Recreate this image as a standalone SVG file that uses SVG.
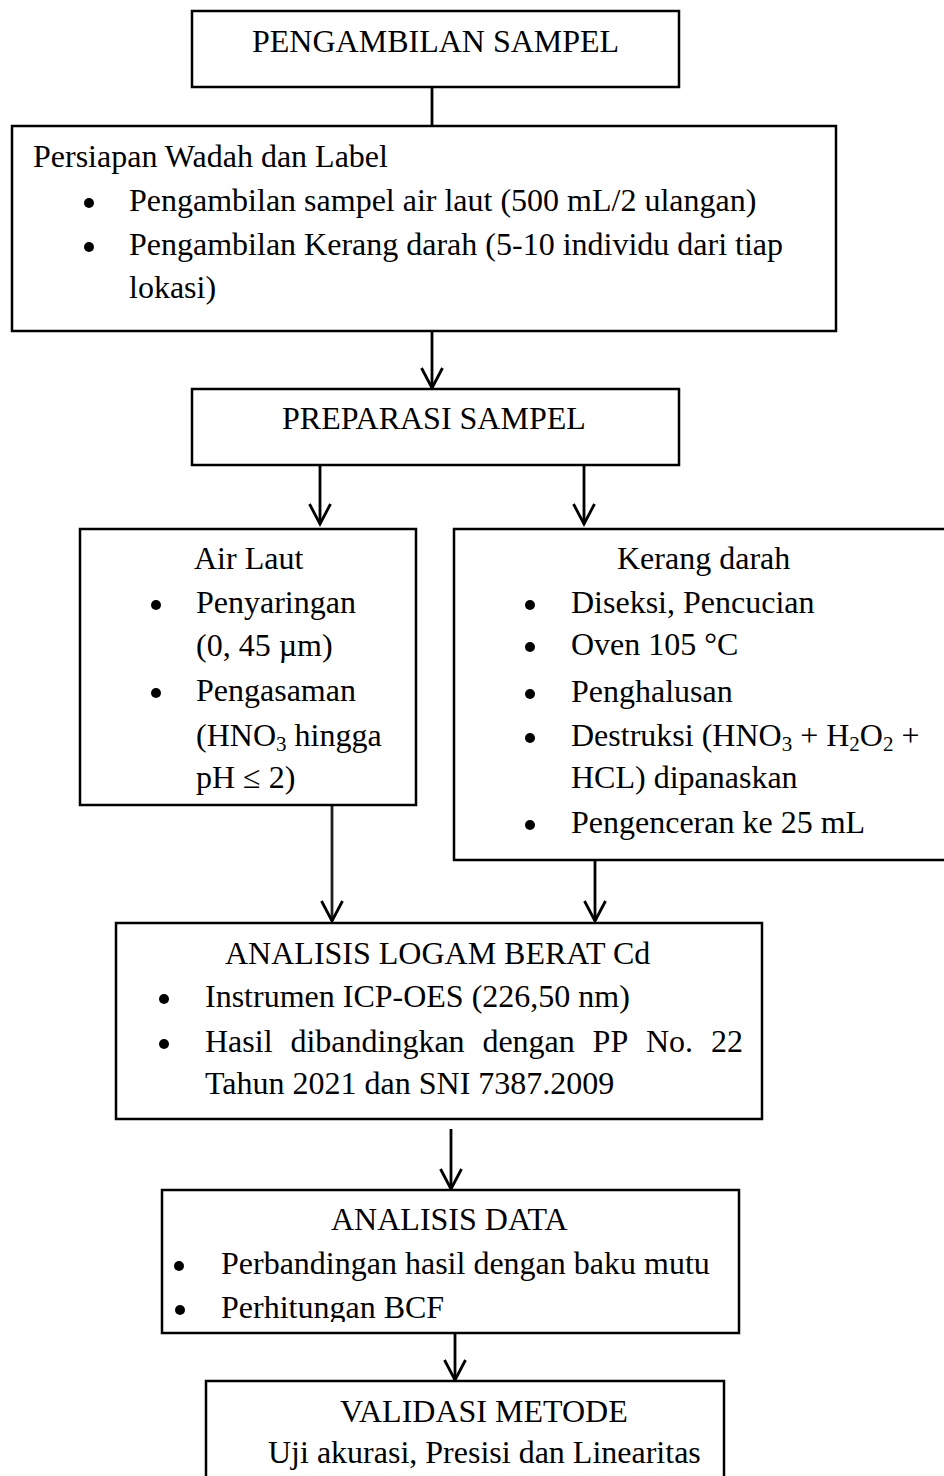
<svg xmlns="http://www.w3.org/2000/svg" width="944" height="1476" viewBox="0 0 944 1476">
<style>
.box{fill:#fff;stroke:#000;stroke-width:2.5}
.t{font-family:"Liberation Serif","Times New Roman",serif;font-size:32px;fill:#000}
.sub{font-size:21px}
.b{fill:#000}
.c{stroke:#000;stroke-width:2.8;fill:none}
</style>
<defs>
<marker id="arr" markerUnits="userSpaceOnUse" markerWidth="26" markerHeight="28" viewBox="-23 -13 26 26" refX="0" refY="0" orient="auto">
<path d="M-20,-10.5 L0,0 L-20,10.5" fill="none" stroke="#000" stroke-width="2.8"/>
</marker>
<clipPath id="clipBCF"><rect x="150" y="1280" width="600" height="42"/></clipPath>
</defs>
<rect width="944" height="1476" fill="#fff"/>

<g id="connectors">
<line class="c" x1="432" y1="87" x2="432" y2="126"/>
<line class="c" x1="432" y1="331" x2="432" y2="388" marker-end="url(#arr)"/>
<line class="c" x1="320" y1="465" x2="320" y2="524" marker-end="url(#arr)"/>
<line class="c" x1="584" y1="465" x2="584" y2="524" marker-end="url(#arr)"/>
<line class="c" x1="332" y1="805" x2="332" y2="921" marker-end="url(#arr)" style="stroke:#231f20"/>
<line class="c" x1="595" y1="860" x2="595" y2="921" marker-end="url(#arr)"/>
<line class="c" x1="451" y1="1129" x2="451" y2="1189" marker-end="url(#arr)"/>
<line class="c" x1="455" y1="1333" x2="455" y2="1380" marker-end="url(#arr)"/>
</g>

<g id="pengambilan">
<rect class="box" x="192" y="11" width="487" height="76"/>
<text class="t" x="252" y="52">PENGAMBILAN SAMPEL</text>
</g>

<g id="persiapan">
<rect class="box" x="12" y="126" width="824" height="205"/>
<text class="t" x="33" y="167">Persiapan Wadah dan Label</text>
<circle class="b" cx="89" cy="203" r="5"/>
<text class="t" x="129" y="211">Pengambilan sampel air laut (500 mL/2 ulangan)</text>
<circle class="b" cx="89" cy="247" r="5"/>
<text class="t" x="129" y="255">Pengambilan Kerang darah (5-10 individu dari tiap</text>
<text class="t" x="129" y="298">lokasi)</text>
</g>

<g id="preparasi">
<rect class="box" x="192" y="389" width="487" height="76"/>
<text class="t" x="282" y="429">PREPARASI SAMPEL</text>
</g>

<g id="airlaut">
<rect class="box" x="80" y="529" width="336" height="276"/>
<text class="t" x="194" y="569">Air Laut</text>
<circle class="b" cx="156" cy="605" r="5"/>
<text class="t" x="196" y="613">Penyaringan</text>
<text class="t" x="196" y="656">(0, 45 µm)</text>
<circle class="b" cx="156" cy="693" r="5"/>
<text class="t" x="196" y="701">Pengasaman</text>
<text class="t" x="196" y="746">(HNO<tspan class="sub" dy="5">3</tspan><tspan dy="-5"> hingga</tspan></text>
<text class="t" x="196" y="788">pH ≤ 2)</text>
</g>

<g id="kerang">
<rect class="box" x="454" y="529" width="510" height="331"/>
<text class="t" x="617" y="569">Kerang darah</text>
<circle class="b" cx="530" cy="605" r="5"/>
<text class="t" x="571" y="613">Diseksi, Pencucian</text>
<circle class="b" cx="530" cy="647" r="5"/>
<text class="t" x="571" y="655">Oven 105 °C</text>
<circle class="b" cx="530" cy="694" r="5"/>
<text class="t" x="571" y="702">Penghalusan</text>
<circle class="b" cx="530" cy="738" r="5"/>
<text class="t" x="571" y="746">Destruksi (HNO<tspan class="sub" dy="5">3</tspan><tspan dy="-5"> + H</tspan><tspan class="sub" dy="5">2</tspan><tspan dy="-5">O</tspan><tspan class="sub" dy="5">2</tspan><tspan dy="-5"> +</tspan></text>
<text class="t" x="571" y="788">HCL) dipanaskan</text>
<circle class="b" cx="530" cy="825" r="5"/>
<text class="t" x="571" y="833">Pengenceran ke 25 mL</text>
</g>

<g id="analisis-logam">
<rect class="box" x="116" y="923" width="646" height="196"/>
<text class="t" x="225" y="964">ANALISIS LOGAM BERAT Cd</text>
<circle class="b" cx="164" cy="999" r="5"/>
<text class="t" x="205" y="1007">Instrumen ICP-OES (226,50 nm)</text>
<circle class="b" cx="164" cy="1044" r="5"/>
<text class="t" y="1052"><tspan x="205">Hasil</tspan><tspan x="290.4">dibandingkan</tspan><tspan x="482.4">dengan</tspan><tspan x="592.6">PP</tspan><tspan x="646">No.</tspan><tspan x="711">22</tspan></text>
<text class="t" x="205" y="1094">Tahun 2021 dan SNI 7387.2009</text>
</g>

<g id="analisis-data">
<rect class="box" x="162" y="1190" width="577" height="143"/>
<text class="t" x="331" y="1230">ANALISIS DATA</text>
<circle class="b" cx="179" cy="1266" r="5"/>
<text class="t" x="221" y="1274">Perbandingan hasil dengan baku mutu</text>
<circle class="b" cx="180" cy="1310" r="5"/>
<text class="t" x="221" y="1318" clip-path="url(#clipBCF)">Perhitungan BCF</text>
</g>

<g id="validasi">
<rect class="box" x="206" y="1381" width="518" height="120"/>
<text class="t" x="340" y="1422">VALIDASI METODE</text>
<text class="t" x="268" y="1463">Uji akurasi, Presisi dan Linearitas</text>
</g>
</svg>
